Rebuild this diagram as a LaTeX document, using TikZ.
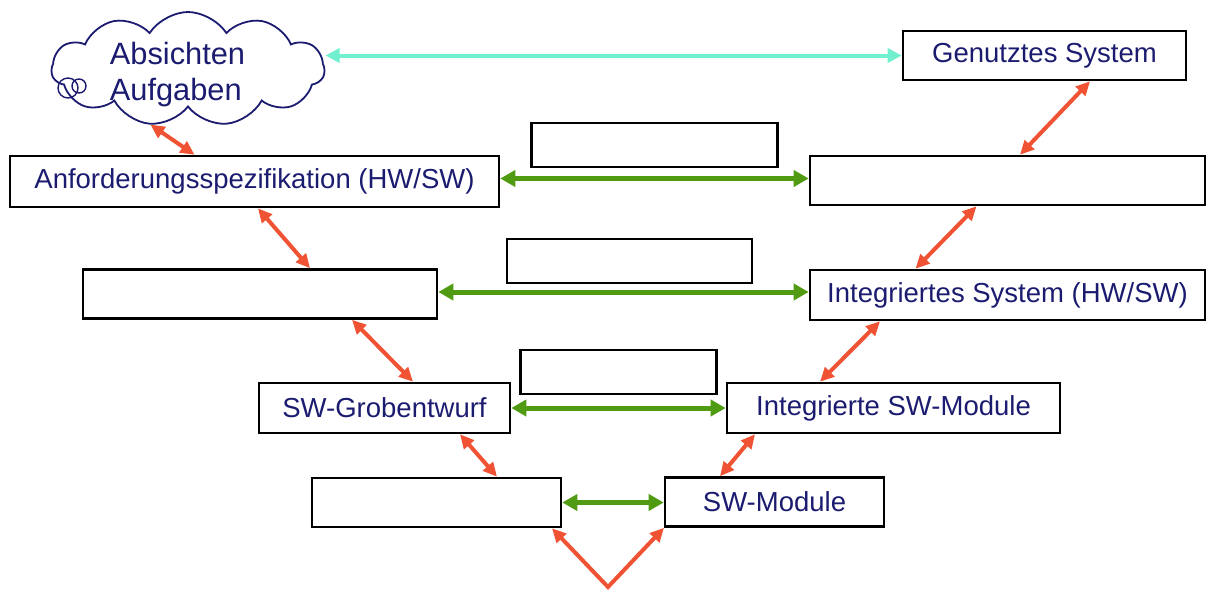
\documentclass[tikz,border=0pt]{standalone}
\usepackage{fontspec}
\setmainfont{Liberation Sans}
\usetikzlibrary{arrows.meta,shapes.symbols,positioning}
\definecolor{navy}{RGB}{27,27,112}
\definecolor{vred}{RGB}{240,82,52}
\definecolor{vgreen}{RGB}{80,155,18}
\definecolor{vcyan}{RGB}{112,240,206}

\begin{document}
\begin{tikzpicture}[x=0.5pt,y=-0.5pt,
    box/.style={draw,line width=1.3pt,inner sep=0pt,minimum height=24.5pt,text=navy,font=\fontsize{13.75}{16}\selectfont},
    lbl/.style={draw=black,line width=1.1pt,inner sep=0pt,minimum height=22pt},
    vv/.style={vred,line width=2pt,line join=miter,{Triangle[length=7pt,width=6.5pt]}-{Triangle[length=7pt,width=6.5pt]}},
    hh/.style={vgreen,line width=2.5pt,{Triangle[length=7.5pt,width=8pt]}-{Triangle[length=7.5pt,width=8pt]}},
    cc/.style={vcyan,line width=2pt,{Triangle[length=7pt,width=7pt]}-{Triangle[length=7pt,width=7pt]}}]

                \useasboundingbox (0,0) rectangle (1208,590);

                \node[cloud,draw=navy,line width=0.9pt,cloud puffs=11,cloud puff arc=115,aspect=2.4,minimum width=136.5pt,minimum height=57pt,inner sep=0pt,
                      label={[text=navy,align=left,xshift=-5.25pt,yshift=-3pt,font=\fontsize{15.4}{18}\selectfont]center:Absichten\\Aufgaben}] (cld) at (188,69) {};
                \draw[navy,line width=0.7pt] (68,88) circle (10) (79,86) circle (7);

                \node[box,minimum width=141.5pt] (gen) at (1044.5,55.5) {Genutztes System};
                \node[box,minimum width=244.5pt,minimum height=25.5pt] (anf) at (254.5,181.5) {Anforderungsspezifikation (HW/SW)};
                \node[box,minimum width=197.5pt] (sys) at (1007.5,180.5) {};
                \node[box,minimum width=177pt] (arch) at (260,294) {};
                \node[box,minimum width=197.5pt,minimum height=25pt] (isys) at (1007.5,295) {Integriertes System (HW/SW)};
                \node[box,minimum width=125.5pt,minimum height=25pt] (grob) at (384.5,408) {SW-Grobentwurf};
                \node[box,minimum width=166.5pt,minimum height=25pt] (imod) at (893.5,408) {Integrierte SW-Module};
                \node[box,minimum width=124.5pt] (fein) at (436.5,502.5) {};
                \node[box,minimum width=109.5pt] (mod) at (774.5,502) {SW-Module};
                \coordinate (vtip) at (608,587);

                % horizontal pairs
                \path[cc] (cld.east |- gen.west) edge (gen.west);
                \draw[hh] ([yshift=1.5pt]anf.east) -- node[lbl,above=5.25pt,minimum width=123pt] (t1) {} ([yshift=1.5pt]anf.east -| sys.west);
                \draw[hh] ([yshift=1pt]arch.east) -- node[lbl,above=4pt,xshift=3pt,minimum width=122.5pt] (t2) {} ([yshift=1pt]arch.east -| isys.west);
                \draw[hh] (grob.east) -- node[lbl,above=6.5pt,minimum width=98pt] (t3) {} (imod.west);
                \path[hh] (fein.east) edge (fein.east -| mod.west);

                % V steps
                \path[vv] (cld.236) edge ([xshift=-30pt]anf.north);
                \path[vv] ([xshift=22.75pt]gen.south) edge ([xshift=6.25pt]sys.north);
                \path[vv] ([xshift=1.75pt]anf.south) edge ([xshift=25pt]arch.north);
                \path[vv] ([xshift=-15.5pt]sys.south) edge ([xshift=-46pt]isys.north);
                \path[vv] ([xshift=46pt]arch.south) edge ([xshift=14.25pt]grob.north);
                \path[vv] ([xshift=-63.75pt]isys.south) edge ([xshift=-36.75pt]imod.north);
                \path[vv] ([xshift=37.75pt]grob.south) edge ([xshift=30.25pt]fein.north);
                \path[vv] ([xshift=-69.25pt]imod.south) edge ([xshift=-27.25pt]mod.north);
                \draw[vv] ([xshift=57.75pt]fein.south) -- (vtip) -- ([xshift=-55.25pt]mod.south);

            \end{tikzpicture}
\end{document}
